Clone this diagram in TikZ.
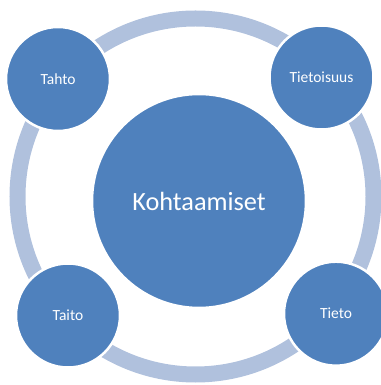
\documentclass[tikz,border=0pt]{standalone}
\usepackage{fontspec}
\setmainfont{Carlito}
\definecolor{discblue}{HTML}{4F81BD}
\definecolor{ringblue}{HTML}{B0C1DD}
\begin{document}
\begin{tikzpicture}[x=1pt,y=1pt,
  disc/.style={circle,fill=discblue,draw=white,line width=2.5pt,
    inner sep=0pt,text=white,align=center},
  smalldisc/.style={disc,minimum size=104pt,font=\fontsize{15.5}{18}\selectfont},
  bigdisc/.style={disc,minimum size=214pt,font=\fontsize{26.3}{31}\selectfont}]
  \useasboundingbox (0,0) rectangle (380,385);
  % outer ring linking the four satellites
  \coordinate (ringc) at (195.5,188.5);
  \draw[ringblue,line width=16pt] (ringc) circle[radius=178];
  % centre and satellites
  \node[bigdisc] (core) at (199,184) {Kohtaamiset};
  \node[smalldisc] (tahto) at (58,306) {Tahto};
  \node[smalldisc] (tietoisuus) at (321.5,307.5) {Tietoisuus};
  \node[smalldisc] (taito) at (68,69.5) {Taito};
  \node[smalldisc] (tieto) at (336,71.3) {Tieto};
\end{tikzpicture}
\end{document}
